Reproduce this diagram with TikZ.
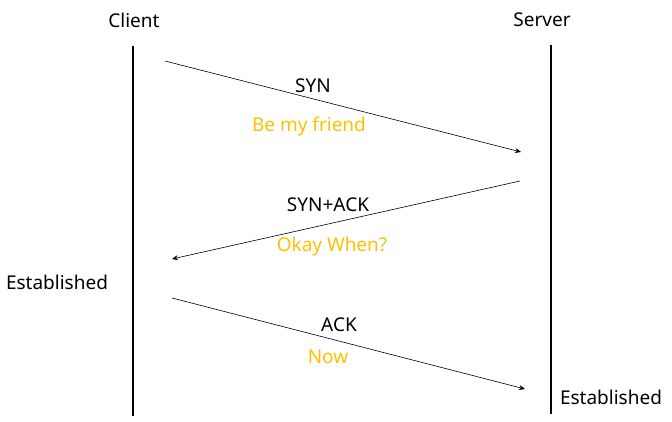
\documentclass[tikz,border=0pt]{standalone}
\usepackage{fontspec}
\setmainfont{Noto Sans}
\usetikzlibrary{arrows.meta}
\definecolor{note}{HTML}{FFC000}
\begin{document}
\begin{tikzpicture}
[
    x=1pt, y=-1pt,
    every node/.style={font=\fontsize{19}{23}\selectfont, inner sep=0pt},
    lifeline/.style={line width=1.6pt},
    msg/.style={line width=0.6pt, -{Stealth[length=6pt, width=5pt]}},
    notetext/.style={text=note},
]
\useasboundingbox (0,0) rectangle (672,422);
\node (client) at (134,20) {Client};
\node (server) at (542,20) {Server};
\coordinate (ctop) at (133,46);
\coordinate (cbot) at (133,416);
\coordinate (stop) at (551,45);
\coordinate (sbot) at (551,414);
\draw[lifeline] (ctop) -- (cbot);
\draw[lifeline] (stop) -- (sbot);
% handshake
\coordinate (syn a) at (165,61);
\coordinate (syn b) at (521,152);
\coordinate (synack a) at (520,181);
\coordinate (synack b) at (172,259);
\coordinate (ack a) at (172,298);
\coordinate (ack b) at (525,389);
\draw[msg] (syn a) -- (syn b);
\draw[msg] (synack a) -- (synack b);
\draw[msg] (ack a) -- (ack b);
\node (syn) at (313,86) {SYN};
\node[notetext] (friend) at (309,127) {Be my friend};
\node (synack) at (328,205) {SYN+ACK};
\node[notetext] (when) at (332,247) {Okay When?};
\node (ack) at (339,325) {ACK};
\node[notetext] (now) at (328,357) {Now};
\node (cest) at (57,282) {Established};
\node (sest) at (611,397) {Established};
\end{tikzpicture}
\end{document}
